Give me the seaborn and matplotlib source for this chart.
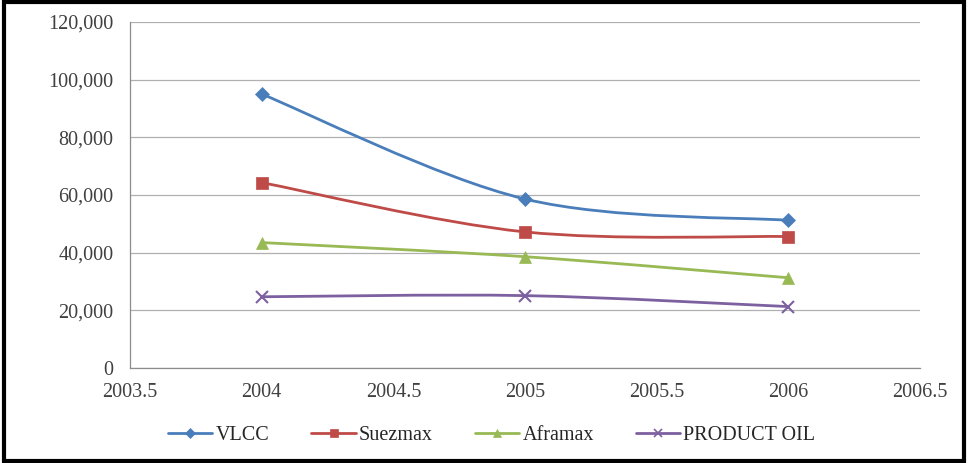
import numpy as np
import pandas as pd
import matplotlib.pyplot as plt
import seaborn as sns
from matplotlib.path import Path
from matplotlib.patches import PathPatch, Rectangle
from matplotlib.lines import Line2D
from matplotlib.ticker import FuncFormatter, MultipleLocator

# 数据
years = [2004, 2005, 2006]
vlcc = [95000, 58600, 51200]
suezmax = [64300, 47200, 45600]
aframax = [43500, 38600, 31300]
product_oil = [24700, 25100, 21300]

series_names = ['VLCC', 'Suezmax', 'Aframax', 'PRODUCT OIL']
colors = ['#4A7EBB', '#BE4B48', '#98B954', '#7D60A0']
markers = ['D', 's', '^', 'x']
marker_sizes = [7, 9, 8, 8]

df = pd.DataFrame({
    'year': years * 4,
    'value': vlcc + suezmax + aframax + product_oil,
    'series': [n for n in series_names for _ in years],
})

sns.set_style('white')
plt.rcParams['font.family'] = ['Liberation Serif', 'DejaVu Serif']

fig = plt.figure(figsize=(9.68, 4.63), dpi=100)
ax = fig.add_axes([0.1343, 0.2052, 0.8161, 0.7473])


def smooth_path(xs, ys):
    # Excel 风格平滑线（Catmull-Rom -> Bezier）
    pts = np.column_stack([xs, ys]).astype(float)
    n = len(pts)
    verts = [pts[0]]
    codes = [Path.MOVETO]
    for i in range(n - 1):
        p0 = pts[max(i - 1, 0)]
        p1 = pts[i]
        p2 = pts[i + 1]
        p3 = pts[min(i + 2, n - 1)]
        c1 = p1 + (p2 - p0) / 6.0
        c2 = p2 - (p3 - p1) / 6.0
        verts += [c1, c2, p2]
        codes += [Path.CURVE4] * 3
    return Path(verts, codes)


# 平滑曲线
for name, col in zip(series_names, colors):
    sub = df[df['series'] == name]
    ax.add_patch(PathPatch(smooth_path(sub['year'], sub['value']),
                           facecolor='none', edgecolor=col, lw=2.0, zorder=3))

# 数据点标记
for name, col, mk, ms in zip(series_names, colors, markers, marker_sizes):
    sub = df[df['series'] == name]
    sns.lineplot(data=sub, x='year', y='value', ax=ax, color=col,
                 marker=mk, markersize=ms, linestyle='none',
                 markeredgecolor=col, markeredgewidth=1.5 if mk == 'x' else 0.5,
                 legend=False, zorder=4)

ax.set_xlim(2003.5, 2006.5)
ax.set_ylim(0, 120000)
ax.xaxis.set_major_locator(MultipleLocator(0.5))
ax.yaxis.set_major_locator(MultipleLocator(20000))
ax.xaxis.set_major_formatter(FuncFormatter(lambda v, p: f'{v:g}'))
ax.yaxis.set_major_formatter(FuncFormatter(lambda v, p: f'{int(v):,}'))
ax.set_xlabel('')
ax.set_ylabel('')

ax.grid(axis='y', color='#B0B0B0', lw=0.9)
ax.grid(axis='x', visible=False)
for s in ['top', 'right']:
    ax.spines[s].set_visible(False)
for s in ['left', 'bottom']:
    ax.spines[s].set_color('#8C8C8C')
    ax.spines[s].set_linewidth(0.9)
ax.tick_params(axis='both', direction='out', length=4, width=0.9,
               color='#8C8C8C', labelsize=14.5, labelcolor='#404040')
ax.tick_params(axis='y', pad=8)
ax.tick_params(axis='x', pad=7)

handles = [Line2D([0], [0], color=c, marker=m, markersize=ms * 0.7, lw=2.0,
                  markeredgewidth=1.2 if m == 'x' else 0.5)
           for c, m, ms in zip(colors, markers, marker_sizes)]
fig.legend(handles, series_names, loc='center', bbox_to_anchor=(0.508, 0.06),
           ncol=4, frameon=False, fontsize=14.5, handlelength=2.2,
           columnspacing=2.1, handletextpad=0.15)

# 外框
fig.patches.append(Rectangle((0.004, 0.005), 0.992, 0.99, transform=fig.transFigure,
                             fill=False, edgecolor='black', lw=3))

fig.savefig('out.png', dpi=100)
plt.close(fig)
